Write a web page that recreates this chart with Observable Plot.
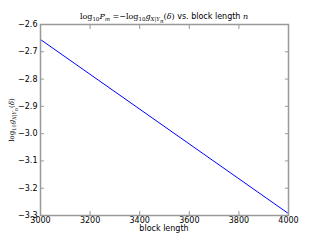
<!DOCTYPE html>
<html><head><meta charset="utf-8">
<script src="https://cdn.jsdelivr.net/npm/d3@7"></script>
<script src="https://cdn.jsdelivr.net/npm/@observablehq/plot@0.6"></script>
<style>
body{margin:0;background:#fff;}
#wrap{position:relative;width:320px;height:240px;font-family:"DejaVu Sans",sans-serif;}
.m{font-family:"DejaVu Serif",serif;}
.i{font-style:italic;}
#title{position:absolute;top:12px;left:0;width:328px;text-align:center;font-size:8px;white-space:nowrap;line-height:10px;}
#title sub{font-size:5.5px;vertical-align:-2px;line-height:0;}
#ylab{position:absolute;left:12px;top:120px;transform:translate(-50%,-50%) rotate(-90deg);font-size:7px;white-space:nowrap;}
#ylab sub{font-size:5px;vertical-align:-2px;line-height:0;}
#xlab{position:absolute;top:224px;left:40px;width:248px;text-align:center;font-size:8px;}
svg{position:absolute;left:0;top:0;}
</style></head>
<body><div id="wrap">
<div id="title"><span class="m">log<sub>10</sub><span class="i">P</span><sub class="i">m</sub> =−log<sub>10</sub><span class="i">g</span><sub><span class="i">X</span>|<span class="i">Y<sub>n</sub></span></sub>(<span class="i">δ</span>)</span> vs. block length <span class="m i">n</span></div>
<div id="ylab"><span class="m">log<sub>10</sub><span class="i">g</span><sub><span class="i">X</span>|<span class="i">Y<sub>n</sub></span></sub>(<span class="i">δ</span>)</span></div>
<div id="xlab">block length</div>
</div>
<script>
const blockLength = [3000, 4000];
const logValue = [-2.655, -3.293];
const xTicks = [3000, 3200, 3400, 3600, 3800, 4000];
const yTicks = [-2.6, -2.7, -2.8, -2.9, -3.0, -3.1, -3.2, -3.3];
const data = blockLength.map((n, i) => ({n, v: logValue[i]}));
const fmt = d => d.toFixed(1).replace("-", "−");
const gray = "#999";
const chart = Plot.plot({
  width: 320, height: 240,
  marginTop: 24, marginBottom: 25, marginLeft: 40, marginRight: 32,
  style: {fontFamily: "DejaVu Sans", fontSize: "8px", background: "transparent", color: "#000"},
  x: {domain: [3000, 4000]},
  y: {domain: [-3.3, -2.6]},
  marks: [
    Plot.axisX(xTicks, {tickSize: 0, tickPadding: 2, tickFormat: d => String(d), label: null, fill: "#000"}),
    Plot.axisX(xTicks, {tickSize: -4, tickFormat: () => "", label: null, stroke: gray}),
    Plot.axisX(xTicks, {anchor: "top", tickSize: -4, tickFormat: () => "", label: null, stroke: gray}),
    Plot.axisY(yTicks, {tickSize: 0, tickPadding: 3, tickFormat: fmt, label: null, fill: "#000"}),
    Plot.axisY(yTicks, {tickSize: -4, tickFormat: () => "", label: null, stroke: gray}),
    Plot.axisY(yTicks, {anchor: "right", tickSize: -4, tickFormat: () => "", label: null, stroke: gray}),
    Plot.line(data, {x: "n", y: "v", stroke: "#0000ff", strokeWidth: 1}),
    Plot.frame({stroke: gray, strokeWidth: 1.5})
  ]
});
document.getElementById("wrap").prepend(chart);
</script>
</body></html>
